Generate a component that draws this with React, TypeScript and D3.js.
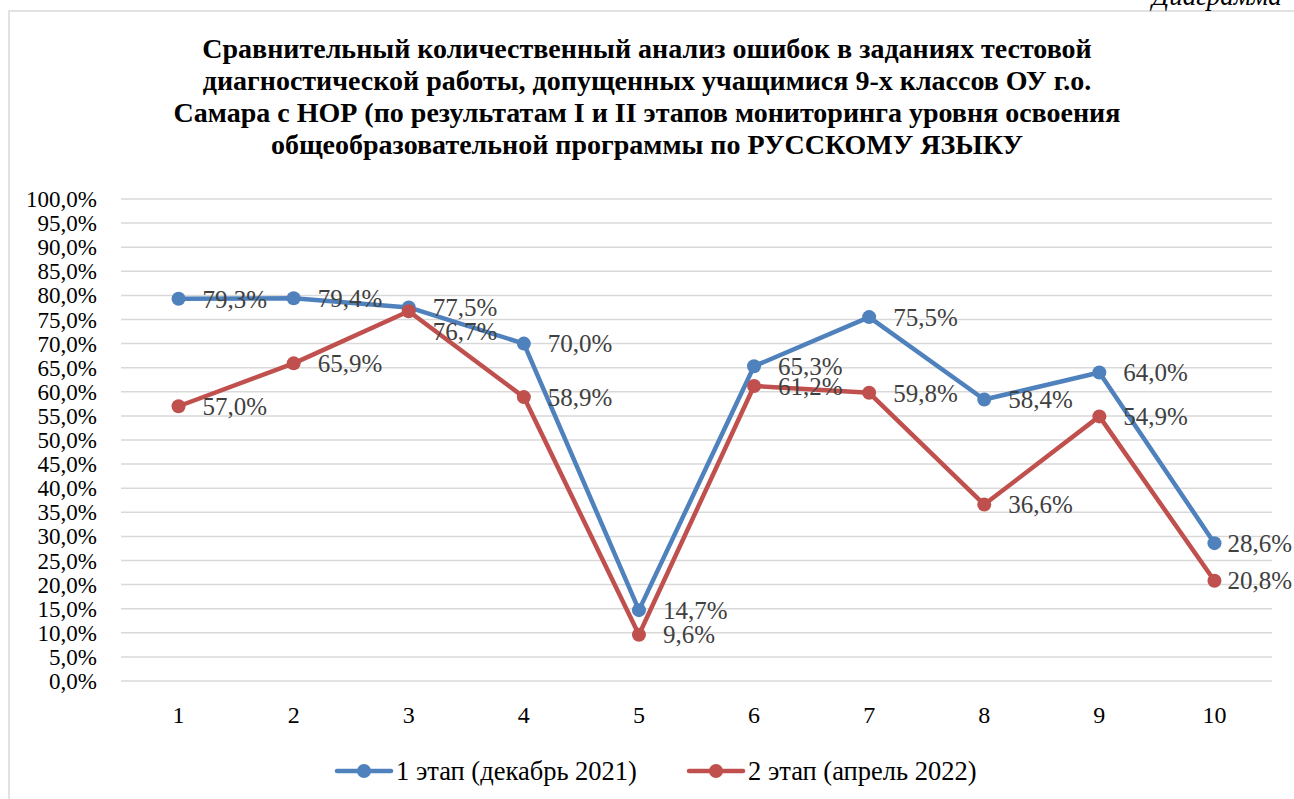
import * as d3 from 'd3';
import React from 'react';

const tasks = ['1', '2', '3', '4', '5', '6', '7', '8', '9', '10'];
const stage1 = [79.3, 79.4, 77.5, 70.0, 14.7, 65.3, 75.5, 58.4, 64.0, 28.6];
const stage2 = [57.0, 65.9, 76.7, 58.9, 9.6, 61.2, 59.8, 36.6, 54.9, 20.8];
const seriesNames = ['1 этап (декабрь 2021)', '2 этап (апрель 2022)'];
const seriesColors = ['#4F81BD', '#C0504D'];
const yTicks = d3.range(0, 101, 5);
const titleLines = [
  'Сравнительный количественный анализ ошибок в заданиях тестовой',
  'диагностической работы, допущенных учащимися 9-х классов ОУ г.о.',
  'Самара с НОР (по результатам I и II этапов мониторинга уровня освоения',
  'общеобразовательной программы по РУССКОМУ ЯЗЫКУ',
];

const W = 1294;
const H = 799;
const font = '"Liberation Serif", "Times New Roman", serif';
const fmt = (v: number) => v.toFixed(1).replace('.', ',') + '%';

const App: React.FC = () => {
  const x = d3.scaleBand().domain(tasks).range([121, 1272]);
  const y = d3.scaleLinear().domain([0, 100]).range([681, 199]);
  const cx = (t: string) => (x(t) as number) + x.bandwidth() / 2;
  const line = d3
    .line<number>()
    .x((_, i) => cx(tasks[i]))
    .y((d) => y(d));

  const series = [stage1, stage2];

  return (
    <svg
      width={W}
      height={H}
      style={{ position: 'absolute', left: 0, top: 0, background: 'white' }}
      fontFamily={font}
    >
      <rect x={9} y={11} width={W} height={H} fill='white' stroke='#d9d9d9' strokeWidth={1.5} />
      <text x={1152} y={5} fontSize={27} fontStyle='italic' fill='#000'>
        Диаграмма
      </text>

      {titleLines.map((l, i) => (
        <text
          key={i}
          x={647}
          y={48 + i * 32}
          dy='0.35em'
          textAnchor='middle'
          fontSize={28}
          fontWeight='bold'
          fill='#000'
        >
          {l}
        </text>
      ))}

      {yTicks.map((t) => (
        <g key={t}>
          <line x1={121} x2={1272} y1={y(t)} y2={y(t)} stroke='#d9d9d9' strokeWidth={1.5} />
          <text x={97} y={y(t)} dy='0.35em' textAnchor='end' fontSize={23} fill='#000'>
            {fmt(t)}
          </text>
        </g>
      ))}

      {tasks.map((t) => (
        <text key={t} x={cx(t)} y={715} dy='0.35em' textAnchor='middle' fontSize={24} fill='#000'>
          {t}
        </text>
      ))}

      {series.map((s, si) => (
        <g key={si}>
          <path d={line(s) || ''} fill='none' stroke={seriesColors[si]} strokeWidth={4.5} strokeLinejoin='round' strokeLinecap='round' />
          {s.map((v, i) => (
            <circle key={i} cx={cx(tasks[i])} cy={y(v)} r={7} fill={seriesColors[si]} />
          ))}
        </g>
      ))}

      {series.map((s, si) =>
        s.map((v, i) => {
          let ly = y(v);
          if (si === 1 && Math.abs(y(stage1[i]) - y(v)) < 15) ly = y(stage1[i]) + 24;
          const last = i === tasks.length - 1;
          return (
            <text
              key={si + '-' + i}
              x={last ? 1292 : cx(tasks[i]) + 24}
              y={ly}
              dy='0.35em'
              textAnchor={last ? 'end' : 'start'}
              fontSize={25}
              fill='#404040'
            >
              {fmt(v)}
            </text>
          );
        })
      )}

      {seriesNames.map((n, i) => {
        const lx = [337, 689][i];
        return (
          <g key={n}>
            <line x1={lx} x2={lx + 54} y1={771} y2={771} stroke={seriesColors[i]} strokeWidth={4.5} strokeLinecap='round' />
            <circle cx={lx + 27} cy={771} r={7} fill={seriesColors[i]} />
            <text x={lx + 59} y={771} dy='0.35em' fontSize={26.5} fill='#000'>
              {n}
            </text>
          </g>
        );
      })}
    </svg>
  );
};

export default App;
